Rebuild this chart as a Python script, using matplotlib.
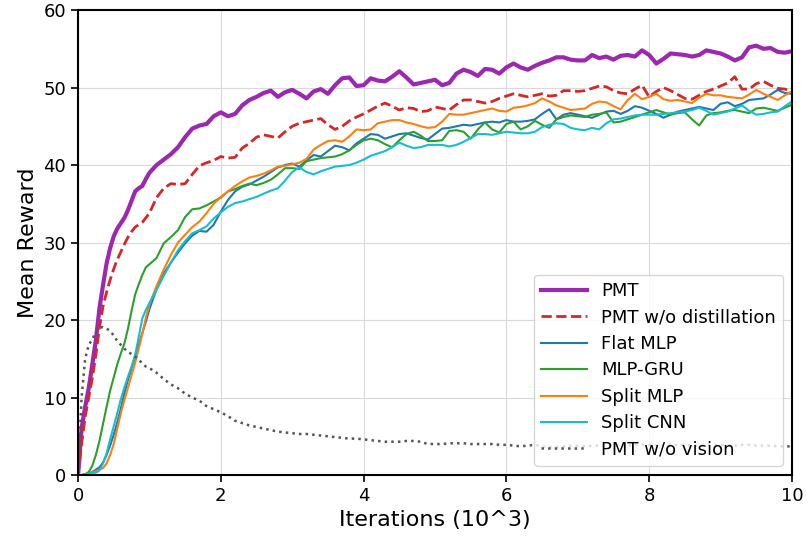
import numpy as np
import matplotlib
matplotlib.use("Agg")
import matplotlib.pyplot as plt

# iterations (10^3): finer steps over the steep start
iters = np.r_[np.arange(0, 1, 0.05), np.arange(1, 10.01, 0.1)]

pmt = [
    0, 6, 8.8, 11.2, 14.3, 17.4, 21.5, 24.5, 27.3, 29.3,
    30.8, 31.8, 32.5, 33.2, 34.2, 35.4, 36.6, 37, 37.3, 38.2,
    39, 40, 40.7, 41.4, 42.3, 43.6, 44.7, 45.1, 45.3, 46.3,
    46.8, 46.3, 46.6, 47.7, 48.4, 48.8, 49.3, 49.6, 48.8, 49.4,
    49.7, 49.2, 48.6, 49.5, 49.8, 49.2, 50.3, 51.2, 51.3, 50.2,
    50.3, 51.2, 50.9, 50.8, 51.4, 52.1, 51.3, 50.4, 50.6, 50.8,
    51, 50.3, 50.6, 51.8, 52.3, 52, 51.5, 52.4, 52.3, 51.8,
    52.6, 53.1, 52.6, 52.3, 52.8, 53.2, 53.5, 53.9, 53.9, 53.6,
    53.5, 53.5, 54.2, 53.8, 54, 53.6, 54.1, 54.2, 54, 54.8,
    54.2, 53.1, 53.7, 54.4, 54.3, 54.2, 54, 54.2, 54.8, 54.6,
    54.4, 54, 53.5, 53.9, 55.2, 55.4, 55, 55.1, 54.6, 54.5,
    54.7,
]
pmt_no_distill = [
    0, 4, 7.5, 10, 12.5, 15.5, 19, 21.8, 23.6, 25.2,
    26.6, 27.8, 28.8, 29.8, 30.7, 31.4, 32, 32.3, 32.6, 33.2,
    33.8, 35.8, 37, 37.6, 37.5, 37.6, 38.8, 39.9, 40.3, 40.6,
    41.1, 40.9, 41, 42.2, 42.8, 43.6, 43.9, 43.7, 43.5, 44.3,
    45, 45.4, 45.6, 45.8, 46, 45.2, 44.6, 45, 45.7, 46.2,
    46.6, 47.1, 47.6, 48, 47.6, 47.1, 47.4, 47.3, 46.9, 47,
    47.5, 47.3, 47.1, 47.8, 48.4, 48.4, 48.2, 48, 48.2, 48.6,
    48.9, 49.2, 49, 48.8, 49, 49.2, 48.9, 49, 49.6, 49.6,
    49.5, 49.6, 49.9, 50.2, 50.1, 49.6, 49.3, 49.2, 49.8, 50.3,
    48.8, 49.5, 50, 49.6, 49.1, 48.6, 48.5, 49, 49.5, 49.8,
    50.2, 50.6, 51.4, 49.8, 49.8, 50.5, 50.8, 50.3, 49.9, 49.8,
    49.5,
]
flat_mlp = [
    0, 0, 0.1, 0.2, 0.4, 0.7, 1.0, 1.6, 2.6, 3.8,
    5.2, 6.8, 8.6, 10.6, 12.3, 13.8, 15.3, 16.8, 18.3, 19.8,
    21.4, 24, 26, 27.4, 28.7, 29.9, 30.9, 31.5, 31.4, 32.3,
    34, 35.5, 36.6, 37.2, 37.5, 38, 38.5, 39.1, 39.7, 40,
    40.2, 39.8, 40.6, 41.3, 41.1, 41.8, 42.5, 42.3, 41.9, 42.8,
    43.4, 44, 43.9, 43.4, 43.7, 44, 44.1, 43.8, 43.5, 43.3,
    44, 44.7, 44.8, 45, 45.2, 45.1, 45.3, 45.5, 45.6, 45.5,
    45.8, 45.6, 45.6, 45.7, 45.9, 46.6, 47.2, 45.9, 46.5, 46.7,
    46.5, 46.3, 46.1, 46.5, 46.9, 47, 46.6, 47, 47.6, 47.4,
    47, 46.6, 46.1, 46.5, 46.9, 47.1, 47.3, 47.5, 47.3, 47.1,
    47.9, 48.1, 47.6, 47.9, 48.4, 48.5, 48.6, 49.1, 49.7, 49.3,
    49.2,
]
mlp_gru = [
    0, 0, 0.1, 0.4, 1.2, 2.6, 4.4, 6.6, 8.8, 10.9,
    12.6, 14.3, 15.7, 17, 18.9, 21.2, 23.3, 24.6, 25.8, 26.8,
    27.2, 28, 29.9, 30.7, 31.6, 33.3, 34.3, 34.4, 34.8, 35.3,
    35.8, 36.6, 36.9, 37.3, 37.6, 37.4, 37.7, 38.1, 38.8, 39.6,
    39.6, 39.5, 40.5, 40.7, 40.9, 41, 41.1, 41.4, 41.9, 42.6,
    43.2, 43.4, 43.2, 42.7, 42.3, 43.2, 44, 44.3, 43.8, 43.1,
    43.1, 43.2, 44.4, 44.5, 44.3, 43.4, 44.6, 45.5, 44.6, 44.2,
    45.3, 45.6, 44.6, 45, 45.7, 45.2, 44.8, 45.9, 46.2, 46.4,
    46.3, 46.2, 46.5, 46.6, 46.8, 45.5, 45.6, 45.9, 46.2, 46.5,
    46.8, 47.1, 46.8, 46.5, 46.7, 46.8, 45.9, 45.1, 46.4, 46.7,
    46.8, 47, 47.1, 46.9, 46.7, 47.3, 47.4, 47.2, 47, 47.4,
    47.8,
]
split_mlp = [
    0, 0, 0, 0.1, 0.3, 0.5, 0.7, 0.9, 1.5, 2.6,
    4.0, 6.0, 8.0, 9.7, 11.3, 12.9, 14.5, 16.3, 18.2, 20.3,
    22, 24.4, 26.5, 28.4, 30, 31, 32, 32.7, 33.8, 35,
    35.9, 36.6, 37.3, 37.9, 38.4, 38.6, 38.9, 39.3, 39.8, 39.9,
    40.1, 40.3, 40.8, 42, 42.6, 43.1, 43.2, 43, 43.7, 44.6,
    44.5, 44.6, 45.4, 45.6, 45.8, 45.8, 45.5, 45.3, 45, 44.8,
    44.9, 45.6, 46.6, 46.5, 46.5, 46.7, 46.9, 47.1, 47.3, 47,
    46.9, 47.4, 47.5, 47.7, 48, 48.6, 48.2, 47.7, 47.4, 47.1,
    47.2, 47.3, 47.9, 48.2, 48.1, 47.6, 47.2, 48.4, 49.2, 48.5,
    48.8, 49.2, 48.5, 48.3, 48.4, 48.2, 48, 48.7, 49.2, 49,
    49, 48.8, 48.7, 48.6, 49.1, 49.7, 49.2, 48.8, 48.4, 49,
    49.5,
]
split_cnn = [
    0, 0, 0.1, 0.2, 0.3, 0.3, 0.6, 1.5, 2.8, 4.6,
    6.3, 8.0, 9.8, 11.3, 12.7, 14, 15.5, 17.8, 20.2, 21.3,
    22.2, 23.9, 25.7, 27.4, 29, 30.2, 31.2, 31.6, 32.1, 33.1,
    33.9, 34.6, 35.1, 35.3, 35.6, 35.9, 36.3, 36.7, 37, 38,
    39.1, 39.7, 39.1, 38.8, 39.2, 39.5, 39.8, 39.9, 40, 40.3,
    40.7, 41.2, 41.5, 41.8, 42.3, 42.9, 42.5, 42.2, 42.3, 42.6,
    42.6, 42.6, 42.4, 42.6, 43, 43.5, 44, 44, 43.9, 44.1,
    44.3, 44.2, 44.1, 44.1, 44.3, 44.9, 45.2, 45.4, 45.3, 44.8,
    44.6, 44.5, 44.8, 44.6, 45.4, 45.9, 46, 46.2, 46.4, 46.5,
    46.5, 46.5, 46.6, 46.7, 46.8, 46.9, 47.1, 47.4, 47, 46.5,
    46.7, 46.9, 47.3, 47.7, 47, 46.5, 46.6, 46.8, 46.9, 47.6,
    48.2,
]
pmt_no_vision = [
    0, 10, 15, 16.8, 17.5, 18.5, 19, 19.1, 18.9, 18.6,
    18, 17.3, 16.8, 16.3, 15.9, 15.6, 15.3, 14.9, 14.4, 14,
    13.8, 13.2, 12.4, 11.7, 11.2, 10.5, 10, 9.6, 8.9, 8.5,
    8.1, 7.6, 7.0, 6.7, 6.4, 6.2, 6, 5.8, 5.6, 5.5,
    5.4, 5.3, 5.3, 5.2, 5.1, 5, 4.9, 4.8, 4.7, 4.7,
    4.6, 4.5, 4.4, 4.3, 4.3, 4.3, 4.4, 4.4, 4.3, 4.0,
    4.0, 4.0, 4.1, 4.1, 4.1, 4.0, 4.0, 4.0, 4.0, 3.9,
    3.9, 3.8, 3.7, 3.8, 3.9, 3.7, 3.6, 3.6, 3.7, 3.8,
    3.8, 3.7, 3.8, 3.8, 3.9, 3.9, 3.8, 3.8, 3.9, 3.9,
    3.9, 3.8, 3.8, 3.9, 3.9, 3.9, 3.8, 3.8, 3.9, 3.9,
    3.9, 3.8, 3.8, 3.9, 3.9, 3.8, 3.8, 3.8, 3.7, 3.7,
    3.7,
]

series = [
    ("PMT", pmt, dict(color="#9c27b0", lw=3.0, ls="-")),
    ("PMT w/o distillation", pmt_no_distill, dict(color="#d62728", lw=2.0, ls="--")),
    ("Flat MLP", flat_mlp, dict(color="#1f77b4", lw=1.5, ls="-")),
    ("MLP-GRU", mlp_gru, dict(color="#2ca02c", lw=1.5, ls="-")),
    ("Split MLP", split_mlp, dict(color="#ff7f0e", lw=1.5, ls="-")),
    ("Split CNN", split_cnn, dict(color="#17becf", lw=1.5, ls="-")),
    ("PMT w/o vision", pmt_no_vision, dict(color="#555555", lw=1.8, ls=":")),
]

fig = plt.figure(figsize=(8.06, 5.38), dpi=100)
ax = fig.add_axes([0.0968, 0.117, 0.8858, 0.8643])

for label, vals, style in series:
    ax.plot(iters, vals, label=label, **style)

ax.set_xlim(0, 10)
ax.set_ylim(0, 60)
ax.set_xticks([0, 2, 4, 6, 8, 10])
ax.set_yticks([0, 10, 20, 30, 40, 50, 60])
ax.grid(True, color="#d9d9d9", lw=0.8)
ax.set_axisbelow(True)
for sp in ax.spines.values():
    sp.set_linewidth(1.5)
ax.tick_params(labelsize=13, width=1.2, length=5)
ax.set_xlabel("Iterations (10^3)", fontsize=16)
ax.set_ylabel("Mean Reward", fontsize=16)
ax.legend(loc="lower right", fontsize=13, framealpha=0.8,
          handlelength=2.5, labelspacing=0.47)

fig.savefig("out.png", dpi=100)
